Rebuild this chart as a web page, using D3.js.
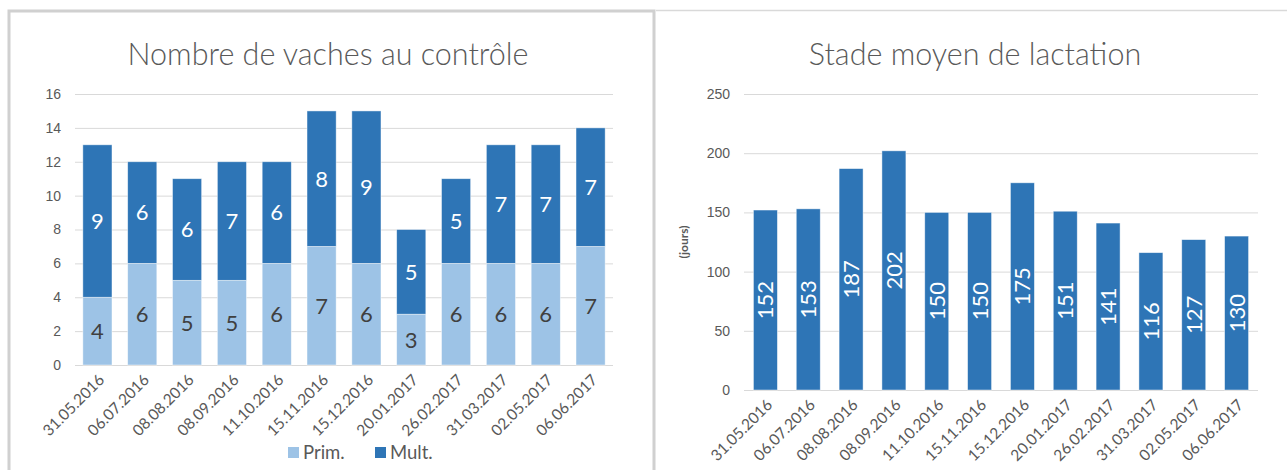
<!DOCTYPE html>
<html>
<head>
<meta charset="utf-8">
<script src="https://cdn.jsdelivr.net/npm/d3@7"></script>
<style>
  body { margin: 0; background: #fff; }
  svg { display: block; font-family: Lato, "Open Sans", sans-serif; }
</style>
</head>
<body>
<div id="chart"></div>
<script>
const dates = ["31.05.2016", "06.07.2016", "08.08.2016", "08.09.2016", "11.10.2016", "15.11.2016",
  "15.12.2016", "20.01.2017", "26.02.2017", "31.03.2017", "02.05.2017", "06.06.2017"];
const prim = [4, 6, 5, 5, 6, 7, 6, 3, 6, 6, 6, 7];
const mult = [9, 6, 6, 7, 6, 8, 9, 5, 5, 7, 7, 7];
const lactation = [152, 153, 187, 202, 150, 150, 175, 151, 141, 116, 127, 130];
const vachesTicks = [0, 2, 4, 6, 8, 10, 12, 14, 16];
const lactTicks = [0, 50, 100, 150, 200, 250];

const width = 1287;
const height = 470;
const lightBlue = "#9dc3e6";
const darkBlue = "#2e75b6";
const textGray = "#595959";
const gridGray = "#d9d9d9";

const svg = d3.select("#chart")
  .append("svg")
  .attr("width", width)
  .attr("height", height);

// frames
svg.append("path")
  .attr("d", "M9,470 V11 H654 V470")
  .attr("fill", "none")
  .attr("stroke", "#d0d0d0")
  .attr("stroke-width", 3);
svg.append("line")
  .attr("x1", 656).attr("x2", width)
  .attr("y1", 10.5).attr("y2", 10.5)
  .attr("stroke", gridGray)
  .attr("stroke-width", 1.5);

function drawGrid(g, y, ticks, x0, x1, labelX) {
  g.append("g")
    .attr("transform", `translate(${x0},0)`)
    .call(d3.axisLeft(y).tickValues(ticks).tickSize(-(x1 - x0)).tickPadding(15))
    .call(a => a.select(".domain").remove())
    .call(a => a.selectAll("line").attr("stroke", gridGray).attr("stroke-width", 1))
    .call(a => a.selectAll("text").attr("fill", textGray).attr("font-size", 14).attr("x", labelX - x0));
}

function drawDates(g, x, axisY) {
  g.append("g")
    .selectAll("text")
    .data(dates)
    .join("text")
    .attr("transform", d => `translate(${x(d) + x.bandwidth() / 2 + 4},${axisY + 12}) rotate(-45)`)
    .attr("text-anchor", "end")
    .attr("dy", "0.35em")
    .attr("fill", textGray)
    .attr("font-size", 15.5)
    .text(d => d);
}

// ---- left chart: Nombre de vaches au contrôle
const left = svg.append("g");
const x1 = d3.scaleBand().domain(dates).range([75, 613]).paddingInner(0.35).paddingOuter(0.175);
const y1 = d3.scaleLinear().domain([0, 16]).range([365, 94]);

left.append("text")
  .attr("x", 328).attr("y", 65)
  .attr("text-anchor", "middle")
  .attr("fill", textGray)
  .attr("font-size", 30.5)
  .attr("font-weight", 300)
  .text("Nombre de vaches au contrôle");

drawGrid(left, y1, vachesTicks, 75, 613, 61);

const stacked = d3.stack().keys(["prim", "mult"])(dates.map((d, i) => ({date: d, prim: prim[i], mult: mult[i]})));
const colors = {prim: lightBlue, mult: darkBlue};
const labelColors = {prim: "#404040", mult: "#ffffff"};

stacked.forEach(layer => {
  left.append("g")
    .selectAll("rect")
    .data(layer)
    .join("rect")
    .attr("x", d => x1(d.data.date))
    .attr("y", d => y1(d[1]))
    .attr("width", x1.bandwidth())
    .attr("height", d => y1(d[0]) - y1(d[1]))
    .attr("fill", colors[layer.key])
    .attr("stroke", "#fff")
    .attr("stroke-opacity", 0.6)
    .attr("stroke-width", 0.75);
  left.append("g")
    .selectAll("text")
    .data(layer)
    .join("text")
    .attr("x", d => x1(d.data.date) + x1.bandwidth() / 2)
    .attr("y", d => y1((d[0] + d[1]) / 2))
    .attr("dy", "0.36em")
    .attr("text-anchor", "middle")
    .attr("fill", labelColors[layer.key])
    .attr("font-size", 22)
    .text(d => d[1] - d[0]);
});

drawDates(left, x1, 365);

const legend = left.append("g").attr("transform", "translate(288,447)");
[["Prim.", lightBlue], ["Mult.", darkBlue]].forEach(([name, c], i) => {
  const item = legend.append("g").attr("transform", `translate(${i * 87},0)`);
  item.append("rect").attr("width", 11).attr("height", 11).attr("fill", c);
  item.append("text")
    .attr("x", 15).attr("y", 5.5).attr("dy", "0.36em")
    .attr("fill", textGray).attr("font-size", 18.5)
    .text(name);
});

// ---- right chart: Stade moyen de lactation
const right = svg.append("g");
const x2 = d3.scaleBand().domain(dates).range([744, 1258]).paddingInner(0.44).paddingOuter(0.22);
const y2 = d3.scaleLinear().domain([0, 250]).range([390, 94]);

right.append("text")
  .attr("x", 975).attr("y", 65)
  .attr("text-anchor", "middle")
  .attr("fill", textGray)
  .attr("font-size", 30.5)
  .attr("font-weight", 300)
  .text("Stade moyen de lactation");

drawGrid(right, y2, lactTicks, 744, 1258, 730);

right.append("text")
  .attr("transform", `translate(688,${(94 + 390) / 2}) rotate(-90)`)
  .attr("text-anchor", "middle")
  .attr("fill", textGray)
  .attr("font-size", 12)
  .attr("font-weight", 700)
  .text("(jours)");

right.append("g")
  .selectAll("rect")
  .data(lactation)
  .join("rect")
  .attr("x", (d, i) => x2(dates[i]))
  .attr("y", d => y2(d))
  .attr("width", x2.bandwidth())
  .attr("height", d => y2(0) - y2(d))
  .attr("fill", darkBlue)
  .attr("stroke", "#fff")
  .attr("stroke-opacity", 0.6)
  .attr("stroke-width", 0.75);

right.append("g")
  .selectAll("text")
  .data(lactation)
  .join("text")
  .attr("transform", (d, i) => `translate(${x2(dates[i]) + x2.bandwidth() / 2},${(y2(d) + y2(0)) / 2}) rotate(-90)`)
  .attr("text-anchor", "middle")
  .attr("dy", "0.36em")
  .attr("fill", "#fff")
  .attr("font-size", 22)
  .text(d => d);

drawDates(right, x2, 390);
</script>
</body>
</html>
